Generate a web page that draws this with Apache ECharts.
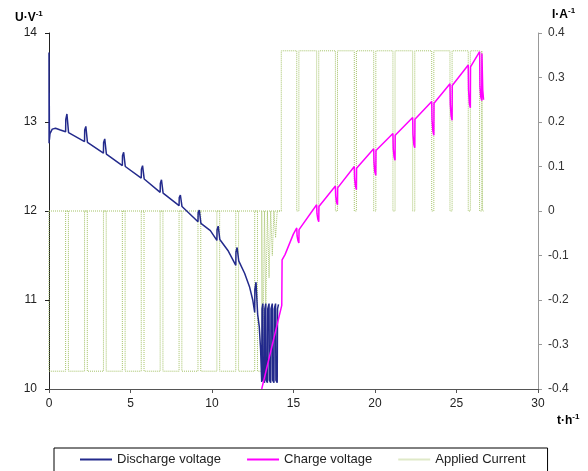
<!DOCTYPE html>
<html>
<head>
<meta charset="utf-8">
<script src="https://cdn.jsdelivr.net/npm/echarts@6/dist/echarts.min.js"></script>
<style>
  html, body { margin: 0; padding: 0; background: #fff; }
  #chart { width: 588px; height: 471px; }
</style>
</head>
<body>
<div id="chart"></div>
<script>
// voltage during discharge [t in h, U in V]
const dischargeVoltage = [
  [0, 13.78], [0.005, 12.76], [0.015, 13.33], [0.025, 12.8], [0.06, 12.87], [0.2, 12.92], [0.4, 12.93], [0.7, 12.91], [1.02, 12.89],
  [1.03, 13.03], [1.1, 13.09], [1.19, 13.1], [1.2, 12.88],
  [2.18, 12.78], [2.19, 12.91], [2.26, 12.95], [2.35, 12.96], [2.36, 12.77],
  [3.34, 12.65], [3.35, 12.77], [3.42, 12.81], [3.51, 12.82], [3.52, 12.64],
  [4.5, 12.51], [4.51, 12.62], [4.58, 12.66], [4.67, 12.67], [4.68, 12.5],
  [5.66, 12.37], [5.67, 12.47], [5.74, 12.51], [5.83, 12.52], [5.84, 12.36],
  [6.82, 12.21], [6.83, 12.31], [6.9, 12.35], [6.99, 12.36], [7.0, 12.2],
  [7.98, 12.06], [7.99, 12.15], [8.06, 12.18], [8.15, 12.19], [8.16, 12.05],
  [9.14, 11.88], [9.15, 11.98], [9.22, 12.01], [9.31, 12.02], [9.32, 11.86],
  [9.9, 11.78], [10.3, 11.67], [10.31, 11.79], [10.38, 11.83], [10.47, 11.84], [10.48, 11.68],
  [11.0, 11.55], [11.46, 11.39], [11.47, 11.54], [11.54, 11.59], [11.63, 11.6], [11.64, 11.44],
  [12.0, 11.3], [12.3, 11.15], [12.5, 11.0], [12.62, 10.86], [12.63, 11.12], [12.7, 11.2], [12.79, 11.22], [12.8, 10.84],
  [12.9, 10.7], [12.98, 10.45], [13.05, 10.08], [13.07, 10.9], [13.12, 10.96],
  [13.14, 10.1], [13.22, 10.07], [13.24, 10.9], [13.3, 10.96],
  [13.32, 10.1], [13.4, 10.07], [13.42, 10.9], [13.5, 10.96],
  [13.52, 10.1], [13.6, 10.07], [13.62, 10.9], [13.7, 10.96],
  [13.72, 10.1], [13.8, 10.07], [13.82, 10.9], [13.9, 10.96],
  [13.92, 10.1], [14.0, 10.07], [14.02, 10.9], [14.08, 10.95]
]

// voltage during charge [t in h, U in V]
const chargeVoltage = [
  [13.05, 10.0], [14.28, 10.94], [14.3, 11.45], [14.48, 11.51], [14.68, 11.6], [14.99, 11.74], [15.2, 11.81],
  [15.22, 11.72], [15.27, 11.67], [15.33, 11.64], [15.34, 11.79],
  [16.42, 12.07], [16.44, 11.97], [16.49, 11.91], [16.55, 11.88], [16.56, 12.05],
  [17.57, 12.28], [17.59, 12.17], [17.64, 12.1], [17.7, 12.07], [17.71, 12.26],
  [18.73, 12.5], [18.75, 12.36], [18.8, 12.28], [18.86, 12.24], [18.87, 12.48],
  [19.92, 12.7], [19.94, 12.54], [19.99, 12.44], [20.05, 12.4], [20.06, 12.68],
  [21.1, 12.87], [21.12, 12.7], [21.17, 12.61], [21.23, 12.57], [21.24, 12.85],
  [22.31, 13.05], [22.33, 12.86], [22.38, 12.75], [22.44, 12.71], [22.45, 13.03],
  [23.48, 13.23], [23.5, 13.02], [23.55, 12.9], [23.61, 12.85], [23.62, 13.21],
  [24.6, 13.43], [24.62, 13.2], [24.67, 13.07], [24.73, 13.02], [24.74, 13.41],
  [25.72, 13.64], [25.74, 13.36], [25.79, 13.21], [25.85, 13.16], [25.86, 13.62],
  [26.42, 13.79], [26.44, 13.4], [26.49, 13.28], [26.55, 13.24], [26.56, 13.77], [26.6, 13.79], [26.61, 13.36], [26.66, 13.25]
]

// applied current: levels and rest periods (h)
const dischargeLevel = -0.36
const chargeLevel = 0.36
const dischargeRestStart = [1.02, 2.18, 3.34, 4.5, 5.66, 6.82, 7.98, 9.14, 10.3, 11.46, 12.62]
const dischargeRestEnd = [1.19, 2.35, 3.51, 4.67, 5.83, 6.99, 8.15, 9.31, 10.47, 11.63, 12.79]
// pulses at the end of discharge [start, end, current]
const tailPulses = [[13.12, 13.22, -0.32], [13.3, 13.4, -0.22], [13.5, 13.6, -0.15], [13.7, 13.8, -0.1], [13.9, 14.0, -0.06]]
const chargeRestStart = [15.2, 16.42, 17.57, 18.73, 19.92, 21.1, 22.31, 23.48, 24.6, 25.72, 26.42]
const chargeRestEnd = [15.33, 16.55, 17.7, 18.86, 20.05, 21.23, 22.44, 23.61, 24.73, 25.85, 26.55]
const dischargeEnd = 13.05
const chargeStart = 14.25
const chargeEnd = 26.6

// step line for the current
const current = []
current.push([0, 0], [chargeStart, 0], [chargeStart, '-'])
current.push([0, 0], [0, dischargeLevel])
dischargeRestStart.forEach((s, i) => {
  const e = dischargeRestEnd[i]
  current.push([s, dischargeLevel], [s, 0], [e, 0], [e, dischargeLevel])
})
current.push([dischargeEnd, dischargeLevel], [dischargeEnd, 0])
tailPulses.forEach(p => {
  current.push([p[0], 0], [p[0], p[2]], [p[1], p[2]], [p[1], 0])
})
current.push([chargeStart, 0], [chargeStart, chargeLevel])
chargeRestStart.forEach((s, i) => {
  const e = chargeRestEnd[i]
  current.push([s, chargeLevel], [s, 0], [e, 0], [e, chargeLevel])
})
current.push([chargeEnd, chargeLevel], [chargeEnd, 0], [26.66, 0])

const font = 'Liberation Sans'
const chart = echarts.init(document.getElementById('chart'))

function unitLabel(main, left, top) {
  return {
    type: 'text',
    left: left,
    top: top,
    style: {
      text: '{a|' + main + '}{b|-1}',
      rich: {
        a: { fontFamily: font, fontSize: 12, fontWeight: 'bold', fill: '#000', lineHeight: 14, verticalAlign: 'bottom' },
        b: { fontFamily: font, fontSize: 8, fontWeight: 'bold', fill: '#000', lineHeight: 8, verticalAlign: 'top' }
      }
    }
  }
}

chart.setOption({
  animation: false,
  grid: { left: 49, right: 50, top: 33, bottom: 82 },
  graphic: [
    unitLabel('U·V', 15, 10),
    unitLabel('I·A', 552, 7),
    unitLabel('t·h', 557, 413)
  ],
  legend: {
    left: 54,
    top: 448,
    padding: [5, 22, 8, 26],
    itemGap: 26,
    itemWidth: 32,
    itemHeight: 2,
    icon: 'rect',
    borderColor: '#000',
    borderWidth: 1,
    borderRadius: 0,
    textStyle: { fontFamily: font, fontSize: 13, color: '#222' },
    data: [
      { name: 'Discharge voltage', itemStyle: { color: '#232a8c' } },
      { name: 'Charge voltage', itemStyle: { color: '#ff00ff' } },
      { name: 'Applied Current', itemStyle: { color: '#dfe9c8' } }
    ]
  },
  xAxis: {
    type: 'value',
    min: 0,
    max: 30,
    interval: 5,
    axisLine: { onZero: false, lineStyle: { color: '#555', width: 1 } },
    axisTick: { show: true, length: 4, lineStyle: { color: '#555' } },
    axisLabel: { fontFamily: font, fontSize: 12, color: '#222', margin: 9 },
    splitLine: { show: false }
  },
  yAxis: [
    {
      type: 'value',
      min: 10,
      max: 14,
      interval: 1,
      axisLine: { show: true, onZero: false, lineStyle: { color: '#222', width: 1 } },
      axisTick: { show: true, length: 4, lineStyle: { color: '#222' } },
      axisLabel: { fontFamily: font, fontSize: 12, color: '#222', margin: 12 },
      splitLine: { show: false }
    },
    {
      type: 'value',
      min: -0.4,
      max: 0.4,
      interval: 0.1,
      position: 'right',
      axisLine: { show: true, onZero: false, lineStyle: { color: '#999', width: 1 } },
      axisTick: { show: true, length: 4, lineStyle: { color: '#999' } },
      axisLabel: {
        fontFamily: font, fontSize: 12, color: '#333', margin: 10,
        formatter: v => String(Number(v.toFixed(1)))
      },
      splitLine: { show: false }
    }
  ],
  series: [
    {
      name: 'Applied Current',
      type: 'line',
      yAxisIndex: 1,
      data: current,
      symbol: 'none',
      connectNulls: false,
      lineStyle: { color: '#a4c267', width: 1, type: 'dotted' },
      itemStyle: { color: '#a4c267' },
      z: 1
    },
    {
      name: 'Discharge voltage',
      type: 'line',
      yAxisIndex: 0,
      data: dischargeVoltage,
      symbol: 'none',
      lineStyle: { color: '#232a8c', width: 1.5 },
      itemStyle: { color: '#232a8c' },
      z: 3
    },
    {
      name: 'Charge voltage',
      type: 'line',
      yAxisIndex: 0,
      data: chargeVoltage,
      symbol: 'none',
      lineStyle: { color: '#ff00ff', width: 1.5 },
      itemStyle: { color: '#ff00ff' },
      z: 3
    }
  ]
})
</script>
</body>
</html>
